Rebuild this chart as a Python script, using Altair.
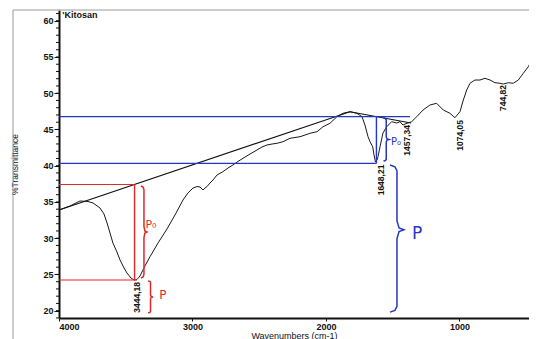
import altair as alt
import pandas as pd

# ---------------- data ----------------
wavenumber = [4000, 3918, 3843, 3783, 3745, 3693, 3663, 3640, 3618, 3596, 3566, 3543, 3513, 3491, 3461, 3438,
              3416, 3393, 3356, 3318, 3258, 3191, 3131, 3071, 3034, 2996, 2966, 2944, 2921, 2906, 2891, 2869,
              2846, 2816, 2772, 2734, 2697, 2659, 2622, 2569, 2517, 2479, 2442, 2404, 2367, 2322, 2270, 2232,
              2195, 2157, 2120, 2067, 2022, 1970, 1918, 1873, 1820, 1768, 1730, 1708, 1685, 1670, 1650, 1640,
              1629, 1618, 1610, 1595, 1573, 1545, 1508, 1470, 1446, 1423, 1408, 1386, 1358, 1320, 1273, 1221,
              1171, 1121, 1071, 1034, 996, 971, 946, 921, 884, 846, 809, 771, 734, 696, 672, 634, 597, 559,
              522, 484, 459, 434]
transmittance = [33.89, 34.44, 35.13, 35.06, 34.86, 34.17, 33.34, 32.10, 30.72, 29.34, 28.10, 27.0, 25.89, 25.20,
                 24.51, 24.23, 24.30, 24.79, 26.17, 27.45, 29.34, 31.27, 33.2, 35.27, 36.23, 36.92, 37.13, 37.06,
                 36.65, 36.92, 37.13, 37.61, 38.03, 38.72, 39.17, 39.68, 40.10, 40.58, 41.02, 41.61, 42.17, 42.58,
                 42.86, 42.99, 43.09, 43.31, 43.78, 43.89, 44.0, 44.23, 44.47, 44.69, 45.38, 45.85, 46.76, 47.23,
                 47.45, 47.23, 46.76, 45.61, 44.0, 43.31, 42.62, 41.48, 40.51, 40.79, 41.24, 42.62, 44.51, 45.38,
                 46.07, 45.89, 46.07, 45.61, 45.75, 45.89, 46.07, 46.76, 47.68, 48.37, 48.61, 47.68, 47.23, 46.62,
                 47.45, 49.06, 50.44, 51.37, 51.82, 51.82, 52.06, 51.82, 51.45, 51.37, 51.27, 51.45, 51.37, 51.82,
                 52.74, 53.66, 54.58, 55.5]

x_ticks = [4000, 3000, 2000, 1000]
y_ticks = [20, 25, 30, 35, 40, 45, 50, 55, 60]
y_minor = list(range(19, 62))

# baseline (tangent) line
tangent_wn = [4000, 1820, 1363]
tangent_T = [33.89, 47.45, 45.89]

# peak labels
peak_labels = ["3444,18", "1648,21", "1457,34", "1074,05", "744,82"]
peak_wn = [3416, 1588, 1393, 996, 676]
peak_T = [23.96, 40.15, 45.61, 46.30, 51.13]

# annotation levels
red_upper, red_lower, red_wn, red_lower_end = 37.41, 24.23, 3434, 3416
blue_upper, blue_lower, blue_wn, blue_upper_end = 46.76, 40.33, 1622, 1371

RED = "#e3262d"
BLUE = "#2436c4"

# braces: (tip wn, cusp wn, top T, bottom T, cusp fraction, colour)
braces = [
    (3386, 3341, 37.2, 24.51, 0.5, RED),
    (3333, 3296, 24.1, 19.7, 0.5, RED),
    (1569, 1528, 46.58, 40.65, 0.5, BLUE),
    (1520, 1416, 40.1, 19.8, 0.44, BLUE),
]
hand_text = ["P₀", "P", "P₀", "P"]
hand_wn = [3311, 3221, 1476, 1318]
hand_T = [31.82, 22.17, 43.27, 30.58]
hand_size = [11, 12, 10, 17]
hand_color = [RED, RED, BLUE, BLUE]

# ---------------- build tables ----------------
W, H = 470, 308
xscale = alt.Scale(domain=[4000, 479], nice=False, zero=False)
yscale = alt.Scale(domain=[18.99, 61.48], nice=False, zero=False)
FONT = "Liberation Sans"

xaxis = alt.Axis(values=x_ticks, title="Wavenumbers (cm-1)", format="d", grid=False,
                 labelFont=FONT, labelFontSize=9, labelFontWeight="bold", labelColor="#111",
                 tickSize=3, tickColor="#111", labelPadding=1,
                 domainColor="#111", domainWidth=2,
                 titleFont=FONT, titleFontSize=9, titleFontWeight="normal", titleColor="#111",
                 titlePadding=0)
yaxis = alt.Axis(values=y_ticks, title="%Transmittance", grid=False,
                 labelFont=FONT, labelFontSize=9, labelFontWeight="bold", labelColor="#111",
                 tickSize=5, tickColor="#111", labelPadding=1,
                 domainColor="#111", domainWidth=2,
                 titleFont=FONT, titleFontSize=8.5, titleFontWeight="normal", titleColor="#111",
                 titleX=-40, titleY=H / 2)

spec = pd.DataFrame({"wn": wavenumber, "T": transmittance, "i": list(range(len(wavenumber)))})
tang = pd.DataFrame({"wn": tangent_wn, "T": tangent_T, "i": list(range(len(tangent_wn)))})

hsegs = pd.DataFrame({
    "x1": [4000, 4000, 4000, 4000],
    "x2": [red_wn, red_lower_end, blue_upper_end, blue_wn],
    "y": [red_upper, red_lower, blue_upper, blue_lower],
    "c": [RED, RED, BLUE, BLUE],
})
vsegs = pd.DataFrame({
    "x": [red_wn, blue_wn],
    "y1": [red_upper, blue_upper],
    "y2": [red_lower, blue_lower],
    "c": [RED, BLUE],
})

rows = []
for g, (tip, cusp, top, bot, mid, col) in enumerate(braces):
    shape = [(0, 0), (0.35, 0.012), (0.5, 0.04), (0.5, mid - 0.06), (0.65, mid - 0.012), (1, mid),
             (0.65, mid + 0.012), (0.5, mid + 0.06), (0.5, 0.96), (0.35, 0.988), (0, 1)]
    for k, (u, v) in enumerate(shape):
        rows.append({"wn": tip + (cusp - tip) * u, "T": top + (bot - top) * v, "g": g, "o": k, "c": col})
brace_df = pd.DataFrame(rows)

peaks = pd.DataFrame({"wn": peak_wn, "T": peak_T, "t": peak_labels})
hand = pd.DataFrame({"wn": hand_wn, "T": hand_T, "t": hand_text, "s": hand_size, "c": hand_color})
minor = pd.DataFrame({"v": y_minor})
title_df = pd.DataFrame({"wn": [3975], "T": [61.3], "t": ["'Kitosan"]})


def X(field="wn"):
    return alt.X(f"{field}:Q", scale=xscale, axis=xaxis)


def Y(field="T"):
    return alt.Y(f"{field}:Q", scale=yscale, axis=yaxis)


spectrum = alt.Chart(spec).mark_line(color="#1a1a1a", strokeWidth=1, clip=True).encode(
    x=X(), y=Y(), order="i:Q")

tangent = alt.Chart(tang).mark_line(color="#111", strokeWidth=1.1).encode(x=X(), y=Y(), order="i:Q")

hrules = alt.Chart(hsegs).mark_rule(strokeWidth=1.2).encode(
    x=X("x1"), x2="x2:Q", y=Y("y"), color=alt.Color("c:N", scale=None))
vrules = alt.Chart(vsegs).mark_rule(strokeWidth=1.4).encode(
    x=X("x"), y=Y("y1"), y2="y2:Q", color=alt.Color("c:N", scale=None))

brace_lines = alt.Chart(brace_df).mark_line(strokeWidth=1.5).encode(
    x=X(), y=Y(), detail="g:N", order="o:Q", color=alt.Color("c:N", scale=None))

peak_text = alt.Chart(peaks).mark_text(angle=270, align="right", baseline="middle", font=FONT,
                                       fontSize=8.5, fontWeight="bold", color="#111").encode(
    x=X(), y=Y(), text="t:N")

hand_labels = alt.Chart(hand).mark_text(align="center", baseline="middle", font="DejaVu Sans").encode(
    x=X(), y=Y(), text="t:N", size=alt.Size("s:Q", scale=None), color=alt.Color("c:N", scale=None))

name_text = alt.Chart(title_df).mark_text(align="left", baseline="top", font=FONT, fontSize=9,
                                          fontWeight="bold", color="#111").encode(x=X(), y=Y(), text="t:N")

minor_ticks = alt.Chart(minor).mark_rule(color="#111", strokeWidth=1).encode(
    y=Y("v"), x=alt.value(-3), x2=alt.value(0))

frame_top = alt.Chart(minor.head(1)).mark_rule(color="#9a9a9a", strokeWidth=1).encode(
    x=alt.value(-46), x2=alt.value(W), y=alt.value(0))
frame_left = alt.Chart(minor.head(1)).mark_rule(color="#9a9a9a", strokeWidth=1).encode(
    x=alt.value(-46), y=alt.value(0), y2=alt.value(H + 24))

chart = alt.layer(
    spectrum, frame_top, frame_left, tangent, hrules, vrules, brace_lines,
    peak_text, hand_labels, name_text, minor_ticks,
).properties(
    width=W, height=H,
    autosize=alt.AutoSizeParams(type="none"),
    padding={"left": 51, "top": 2, "right": 0, "bottom": 21},
    background="white",
).configure_view(stroke=None)

chart.save("out.html", embed_options={"renderer": "svg", "actions": False})
